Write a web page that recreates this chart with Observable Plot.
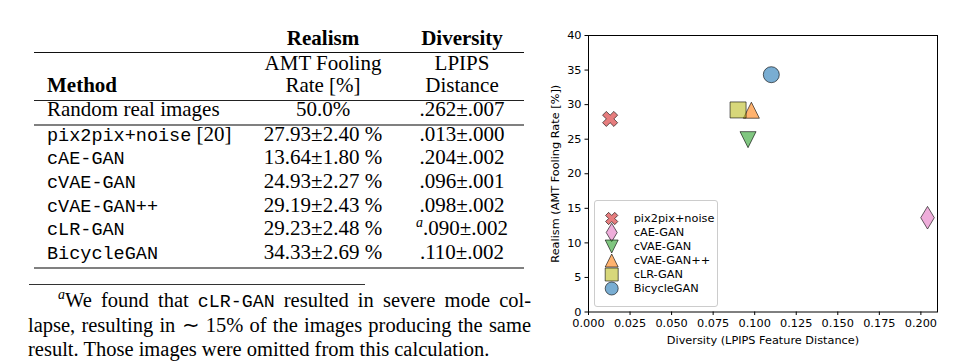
<!DOCTYPE html>
<html><head><meta charset="utf-8">
<script src="https://cdn.jsdelivr.net/npm/d3@7"></script>
<script src="https://cdn.jsdelivr.net/npm/@observablehq/plot@0.6"></script>
<style>
body{margin:0;background:#fff;}
#wrap{position:relative;width:961px;height:364px;overflow:hidden;background:#fff;}
#table{position:absolute;left:0;top:0;width:540px;height:364px;}
#chart{position:absolute;left:540px;top:0;}
#legend{position:absolute;left:593.5px;top:200px;width:122px;height:105px;border:1px solid #ccc;border-radius:3px;background:rgba(255,255,255,0.8);}
#footnote{position:absolute;left:28px;top:288.5px;width:503px;font-family:'Liberation Serif',serif;font-size:20.5px;line-height:23.5px;color:#000;}
#footnote .j{text-align:justify;text-align-last:justify;white-space:nowrap;}
#footnote .tt{font-family:'Liberation Mono',monospace;font-size:18.3px;}
#footnote .sup{font-style:italic;font-size:14px;position:relative;top:-8px;}
</style></head>
<body>
<div id="wrap">
  <div id="table"></div>
  <div id="chart"></div>
  <div id="legend"></div>
  <div id="footnote">
    <div class="j" style="text-indent:30px"><span class="sup">a</span>We found that <span class="tt">cLR-GAN</span> resulted in severe mode col-</div>
    <div class="j">lapse, resulting in &#8764; 15% of the images producing the same</div>
    <div style="white-space:nowrap">result. Those images were omitted from this calculation.</div>
  </div>
</div>
<script>
// ---------- data ----------
const methods = ["pix2pix+noise", "cAE-GAN", "cVAE-GAN", "cVAE-GAN++", "cLR-GAN", "BicycleGAN"];
const citations = [" [20]", "", "", "", "", ""];
const realism = [27.93, 13.64, 24.93, 29.19, 29.23, 34.33];
const realismErr = [2.40, 1.80, 2.27, 2.43, 2.48, 2.69];
const diversity = [0.013, 0.204, 0.096, 0.098, 0.090, 0.110];
const diversityErr = [0.000, 0.002, 0.001, 0.002, 0.002, 0.002];
const diversityNote = ["", "", "", "", "a", ""];
const realLabel = "Random real images";
const realRealism = 50.0;
const realDiversity = 0.262;
const realDiversityErr = 0.007;
const colors = ["#d62728", "#e377c2", "#2ca02c", "#ff7f0e", "#bcbd22", "#1f77b4"];
const markerKinds = ["X", "thin_diamond", "triangle_down", "triangle_up", "square", "circle"];
const xDomain = [0, 0.21];
const yDomain = [0, 40];
const xTicks = [0, 0.025, 0.05, 0.075, 0.1, 0.125, 0.15, 0.175, 0.2];
const yTicks = [0, 5, 10, 15, 20, 25, 30, 35, 40];
const xLabel = "Diversity (LPIPS Feature Distance)";
const yLabel = "Realism (AMT Fooling Rate [%])";

// ---------- matplotlib-like marker symbols ----------
function poly(c, pts){ pts.forEach(([x,y],i)=> i ? c.lineTo(x,y) : c.moveTo(x,y)); c.closePath(); }
const symbolMakers = {
  X: {draw(c, size){ const m = 2*Math.sqrt(size/Math.PI), k = m/6, s = Math.SQRT1_2;
      const p = [[-1,-3],[1,-3],[1,-1],[3,-1],[3,1],[1,1],[1,3],[-1,3],[-1,1],[-3,1],[-3,-1],[-1,-1]];
      poly(c, p.map(([x,y]) => [(x*s - y*s)*k, (x*s + y*s)*k])); }},
  thin_diamond: {draw(c, size){ const m = 2*Math.sqrt(size/Math.PI), h = m*Math.SQRT1_2, w = 0.6*h;
      poly(c, [[0,-h],[w,0],[0,h],[-w,0]]); }},
  triangle_down: {draw(c, size){ const h = Math.sqrt(size/Math.PI);
      poly(c, [[0,h],[-h,-h],[h,-h]]); }},
  triangle_up: {draw(c, size){ const h = Math.sqrt(size/Math.PI);
      poly(c, [[0,-h],[-h,h],[h,h]]); }},
  square: {draw(c, size){ const h = Math.sqrt(size/Math.PI);
      poly(c, [[-h,-h],[h,-h],[h,h],[-h,h]]); }},
  circle: {draw(c, size){ const r = Math.sqrt(size/Math.PI); c.moveTo(r,0); c.arc(0,0,r,0,2*Math.PI); }}
};
const symbols = markerKinds.map(k => symbolMakers[k]);

// ---------- scatter chart ----------
const points = methods.map((m,i) => ({method: m, diversity: diversity[i], realism: realism[i]}));
const dotStyle = {stroke: "#000", strokeOpacity: 0.6, fillOpacity: 0.6, strokeWidth: 1};
const chart = Plot.plot({
  width: 421, height: 364,
  marginLeft: 48, marginRight: 24, marginTop: 35, marginBottom: 52.5,
  style: {fontFamily: "'DejaVu Sans', sans-serif", fontSize: "11.3px", background: "transparent", color: "#000"},
  x: {domain: xDomain, ticks: xTicks, tickFormat: d3.format(".3f"), tickSize: 3.5, tickPadding: 3.5, label: null},
  y: {domain: yDomain, ticks: yTicks, tickSize: 3.5, tickPadding: 3.5, label: null},
  marks: [
    ...points.map((p,i) => Plot.dot([p], {x: "diversity", y: "realism", r: 8, symbol: symbols[i], fill: colors[i], ...dotStyle})),
    Plot.frame({stroke: "#000", strokeWidth: 1}),
    Plot.text([xLabel], {text: d => d, x: () => d3.mean(xDomain), y: () => yDomain[0], dy: 28.5,
      textAnchor: "middle", lineAnchor: "middle", fontSize: 11.3}),
    Plot.text([yLabel], {text: d => d, x: () => xDomain[0], y: () => d3.mean(yDomain), rotate: -90, dx: -33,
      textAnchor: "middle", lineAnchor: "middle", fontSize: 11.3})
  ]
});
document.getElementById("chart").append(chart);

// ---------- legend ----------
const legend = Plot.plot({
  width: 122, height: 105, margin: 0,
  style: {fontFamily: "'DejaVu Sans', sans-serif", fontSize: "11.3px", background: "transparent", color: "#000"},
  x: {domain: [0, 1], range: [16.2, 38.2], axis: null},
  y: {type: "point", domain: methods, range: [9, 94], axis: null},
  marks: [
    ...methods.map((m,i) => Plot.dot([m], {x: () => 0, y: d => d, r: 6.5, symbol: symbols[i], fill: colors[i], ...dotStyle})),
    Plot.text(methods, {x: () => 1, y: d => d, text: d => d, textAnchor: "start", fontSize: 11.3})
  ]
});
document.getElementById("legend").append(legend);

// ---------- table ----------
const fmtDiv = v => d3.format(".3f")(v).replace(/^0/, "");
const T = d3.select("#table").append("svg").attr("width", 540).attr("height", 364);
const serif = "'Liberation Serif', serif", mono = "'Liberation Mono', monospace";
const colMethod = 47, colReal = 323, colDiv = 462, ruleL = 34, ruleR = 524;
function txt(x, y, s, opts = {}) {
  return T.append("text").attr("x", x).attr("y", y).attr("text-anchor", opts.anchor || "middle")
    .attr("font-family", opts.font || serif).attr("font-size", opts.size || 21)
    .attr("font-weight", opts.bold ? "bold" : "normal").attr("fill", "#000").text(s);
}
function rule(y, x1, x2, w, c) {
  T.append("line").attr("x1", x1).attr("x2", x2).attr("y1", y).attr("y2", y).attr("stroke", c).attr("stroke-width", w);
}
txt(colReal, 45, "Realism", {bold: true});
txt(colDiv, 45, "Diversity", {bold: true});
rule(52.5, ruleL, ruleR, 1.2, "#111");
txt(colReal, 70, "AMT Fooling");
txt(colDiv, 70, "LPIPS");
txt(colMethod, 92, "Method", {anchor: "start", bold: true});
txt(colReal, 92, "Rate [%]");
txt(colDiv, 92, "Distance");
rule(100.5, ruleL, ruleR, 1, "#222");
txt(colMethod, 116, realLabel, {anchor: "start"});
txt(colReal, 116, realRealism.toFixed(1) + "%");
txt(colDiv, 116, fmtDiv(realDiversity) + "\u00b1" + fmtDiv(realDiversityErr));
rule(125, ruleL, ruleR, 2, "#808080");
const row0 = 140.5, rowStep = 23.7;
methods.forEach((m, i) => {
  const y = row0 + i * rowStep;
  const t = txt(colMethod, y, m, {anchor: "start", font: mono, size: 18.5});
  if (citations[i]) t.append("tspan").attr("font-family", serif).attr("font-size", 21).text(citations[i]);
  txt(colReal, y, realism[i].toFixed(2) + "\u00b1" + realismErr[i].toFixed(2) + " %");
  const d = T.append("text").attr("x", colDiv).attr("y", y).attr("text-anchor", "middle")
    .attr("font-family", serif).attr("font-size", 21).attr("fill", "#000");
  if (diversityNote[i]) {
    d.append("tspan").attr("font-style", "italic").attr("font-size", 14).attr("dy", -8).text(diversityNote[i]);
    d.append("tspan").attr("dy", 8).text(fmtDiv(diversity[i]) + "\u00b1" + fmtDiv(diversityErr[i]));
  } else {
    d.text(fmtDiv(diversity[i]) + "\u00b1" + fmtDiv(diversityErr[i]));
  }
});
rule(268, ruleL, ruleR, 2, "#808080");
rule(284.5, 29, 365, 1, "#333");
</script>
</body></html>
